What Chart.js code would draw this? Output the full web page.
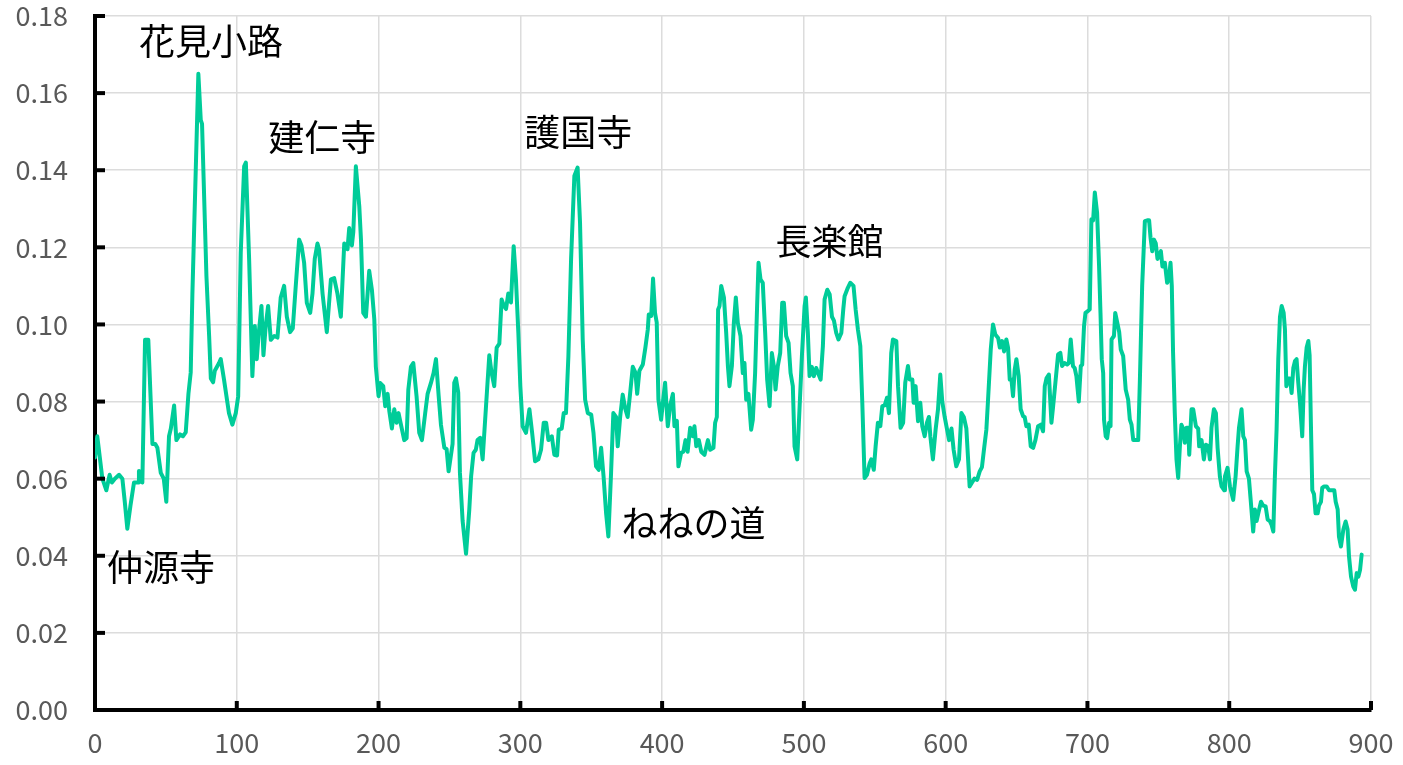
<!DOCTYPE html>
<html>
<head>
<meta charset="utf-8">
<script src="https://cdn.jsdelivr.net/npm/chart.js@4.4.1/dist/chart.umd.min.js"></script>
<style>
body{margin:0;background:#fff;}
#chart{display:block;}
</style>
</head>
<body>
<canvas id="chart" width="1403" height="765"></canvas>
<script>
// x position along the route
var positions = [
 0,1.6,5.2,8,10.3,11.9,14,17,19.3,21,22.8,25,27.5,30.6,31,33.4,35.3,37.6,40.5,42.5,44,46.4,48.5,50.3,52.2,53.5,55.8,57.4,60,62,64,65.9,67.5,68.7,72.9,74.6,75.5,78.6,80.5,81.7,83.3,84.5,87.5,88.7,
 91,93.4,94.5,96.9,99.3,101,102.8,105.2,106.4,108.7,111,112.7,114.1,115.3,117.4,118.8,120.4,122.1,124,126.4,128.7,131,133.4,135.3,137.6,139.5,141.6,144,145.6,147.5,149.4,151.8,153.4,155,156.9,158,160.5,163.5,166.4,168.7,171,173.4,175.8,178.1,179.3,181.2,182.2,184,186.4,187.6,189.2,191.1,193.4,195.3,197,198.1,
 200,201.2,203.3,204.7,206.4,207.6,209.4,211.1,212.7,214.1,215.8,218.1,219.8,221,222.8,224.5,226.8,228.7,230.6,232.9,234.6,237,238.8,240.5,242.4,244,246.4,248,249.4,252.2,253.4,254.6,256.2,257.4,259.3,261.7,264,265.3,267,268.6,269.8,271.7,273.4,275.8,278.1,279.7,281.6,283.3,285.2,286.8,288.2,289.9,291.5,293.4,295.3,296.9,298.6,
 300,301.6,304,306.4,308.3,310.4,312.7,314.6,316.5,318.2,319.8,322.2,324,325.9,327.1,329.2,330.6,332.2,333.9,335.8,338.1,340.4,342.1,344,345.7,347.6,350,351.6,353.4,355.3,357,358.7,360.5,362.1,364,365.6,367.5,368.7,370.4,372.2,374.1,375.7,377.4,379.3,381.2,382.4,384,386.4,388.2,389.9,390.6,392.3,393.6,395,396.2,397.4,399.3,
 400.9,402.1,404,405.7,407.6,408.7,410.4,411.5,413.4,415,416.5,418,419.8,421.6,422.8,424.1,425.9,427.6,429.9,432.3,433.9,436.2,437.4,438.6,439.5,440.5,441.7,443.6,445.2,446.4,447.5,449.2,450.6,452,453.4,455.3,456.9,458.1,459.3,460.9,462.8,464,465.6,467,468,469.4,471,472.7,474.1,475.8,477.4,478.8,480,481.6,483.3,484.7,485.9,487.5,489.2,490.6,492.2,493.4,495.3,497,498.6,
 500.5,501.4,502.8,504,505.6,507,508.7,510.4,511.8,513.4,514.6,516.5,518.2,519.8,521.2,522.8,524.4,526.4,527.8,528.7,531,532.7,535,536.5,538.1,539.8,541.2,542.8,544.5,546.4,547.5,549.3,550.6,552.2,553.9,555.3,557,558.6,560,561.6,562.8,565.2,566.4,568.2,570,571.5,573.4,574.6,576.5,577.4,578.8,580.5,582.1,583.5,585.2,586.8,588.2,589.2,591,592.9,594.6,596.2,597.6,599.3,
 601,602.4,604.1,605.6,607.5,609.4,611.1,612.8,614.6,616.9,618.6,620.3,622.2,624,625.6,627,628.7,629.9,631.8,633.4,635,637,638.2,639.8,641.2,642.8,644,645.2,646.4,647.5,648.7,649.9,651.5,652.9,654.6,655.7,656.9,658.6,660,661.7,663.3,665.2,667.1,668.7,669.9,671.1,672.8,674.6,675.8,677.4,679.3,680.9,682.1,683.8,685.7,686.9,688.2,689.8,691,692.2,693.9,695.3,696.3,697.6,698.6,
 700.5,701.6,702.8,704,705.2,706.8,708.2,709.2,710.1,711.1,711.7,712.9,713.9,715.3,716.3,717,718.7,719.6,721,722.4,723.5,725.2,727,728.7,729.9,731.1,732.3,734.2,735.8,737,738.6,740.5,742.2,743.5,744.5,745.7,746.9,748.2,749.4,750.6,751.8,752.9,754.6,756.2,757.4,758.6,759.5,760.4,761.6,762.8,764,765.2,766.3,767.5,768.7,769.9,771.1,771.8,773.4,774.6,776.5,778.1,778.8,780.5,782.1,783.5,785.2,786.4,787.5,789.2,790.6,791.8,793.4,794.6,796.5,797,798.8,
 800.5,802.8,804.5,805.9,806.9,808.7,809.9,811.1,812.3,813.9,815.3,816.9,818.1,819.3,820.5,822.4,824,825.7,827.1,828.7,829.9,831.1,832.2,833.4,834.6,835.8,837,838.4,839.3,840.3,841.7,842.9,844,845.2,846.4,847.5,848.7,849.9,851.5,852.5,853.4,854.6,855.8,856.7,857.6,858.6,859.8,860.9,862.4,863.3,864.7,865.6,867,868.7,870.4,871.8,874.1,875.1,876.5,877.4,878.8,880.5,882.1,883.5,884.5,885.9,887.5,888.7,889.9,891.1,892.3,893.4
];
var values = [
 0.0655,0.071,0.060,0.057,0.061,0.059,0.060,0.061,0.060,0.054,0.047,0.053,0.059,0.059,0.062,0.059,0.096,0.096,0.069,0.069,0.068,0.0615,0.060,0.054,0.071,0.073,0.079,0.070,0.0715,0.071,0.072,0.082,0.0875,0.108,0.165,0.153,0.152,0.1125,0.097,0.086,0.085,0.088,0.090,0.091,
 0.0857,0.0797,0.077,0.074,0.077,0.0814,0.1186,0.141,0.142,0.117,0.0866,0.0996,0.091,0.097,0.1048,0.092,0.0996,0.1048,0.096,0.097,0.0966,0.107,0.110,0.102,0.098,0.099,0.110,0.122,0.1205,0.116,0.1056,0.103,0.108,0.117,0.121,0.1195,0.108,0.098,0.1117,0.112,0.108,0.102,0.121,0.1195,0.125,0.1205,0.124,0.141,0.1307,0.122,0.103,0.102,0.1139,0.109,0.1013,0.089,
 0.0814,0.0848,0.084,0.0788,0.082,0.0775,0.073,0.078,0.0745,0.077,0.074,0.070,0.0705,0.0831,0.089,0.090,0.0814,0.0719,0.070,0.077,0.082,0.0849,0.0874,0.091,0.0814,0.074,0.068,0.0677,0.0619,0.069,0.0849,0.086,0.0823,0.0615,0.049,0.0405,0.052,0.0606,0.0667,0.0675,0.070,0.0706,0.065,0.0788,0.092,0.0875,0.084,0.094,0.095,0.1065,0.105,0.104,0.108,0.1057,0.1203,0.1117,0.0978,
 0.084,0.0736,0.0719,0.078,0.072,0.0645,0.065,0.0675,0.0745,0.0745,0.070,0.071,0.0662,0.066,0.0727,0.073,0.077,0.077,0.0918,0.117,0.1385,0.1407,0.1264,0.0961,0.0805,0.077,0.0766,0.0719,0.0632,0.0623,0.068,0.0606,0.051,0.045,0.0615,0.077,0.076,0.0684,0.076,0.0818,0.078,0.076,0.082,0.089,0.0875,0.082,0.088,0.0896,0.094,0.0987,0.1026,0.1022,0.1119,0.103,0.1005,0.0805,0.0753,
 0.081,0.0849,0.0736,0.079,0.082,0.0736,0.075,0.0632,0.0667,0.067,0.070,0.067,0.0732,0.071,0.0736,0.0684,0.070,0.067,0.0662,0.070,0.0675,0.068,0.0745,0.076,0.1039,0.1048,0.110,0.107,0.0978,0.0892,0.084,0.0892,0.1004,0.107,0.1004,0.097,0.0874,0.090,0.0805,0.082,0.0727,0.0753,0.0874,0.1048,0.116,0.1117,0.1108,0.0978,0.0857,0.0788,0.0926,0.0892,0.0831,0.0892,0.0926,0.1056,0.1056,0.097,0.0952,0.0874,0.084,0.0684,0.065,0.0788,0.0918,
 0.1048,0.107,0.0978,0.0866,0.089,0.0866,0.0887,0.087,0.0857,0.0944,0.1065,0.109,0.1078,0.102,0.101,0.0978,0.0961,0.0978,0.104,0.1073,0.1095,0.1108,0.110,0.1039,0.0987,0.0944,0.0797,0.0602,0.061,0.064,0.065,0.0623,0.0684,0.0745,0.0736,0.0788,0.079,0.081,0.077,0.0926,0.0961,0.0957,0.084,0.0732,0.0745,0.0849,0.0892,0.0857,0.0857,0.0797,0.084,0.0749,0.0797,0.0736,0.071,0.0745,0.076,0.071,0.065,0.0727,0.078,0.087,0.080,0.076,
 0.0727,0.070,0.073,0.0675,0.0632,0.065,0.077,0.076,0.073,0.058,0.059,0.060,0.0597,0.0619,0.063,0.0675,0.0727,0.0805,0.0935,0.100,0.0974,0.0965,0.094,0.0957,0.093,0.0961,0.094,0.0857,0.0857,0.0814,0.0883,0.091,0.0866,0.078,0.0762,0.076,0.0736,0.074,0.0684,0.068,0.070,0.0736,0.074,0.0723,0.084,0.086,0.087,0.0745,0.0788,0.0849,0.0922,0.0926,0.0892,0.090,0.0896,0.090,0.0961,0.0892,0.0887,0.0866,0.080,0.0892,0.0896,0.0996,0.103,
 0.1035,0.1039,0.1273,0.127,0.1342,0.129,0.1151,0.103,0.091,0.0874,0.0753,0.071,0.0705,0.0745,0.0736,0.0961,0.097,0.103,0.1005,0.098,0.0935,0.0918,0.0831,0.0805,0.0753,0.074,0.070,0.070,0.070,0.0857,0.110,0.1268,0.127,0.127,0.1225,0.119,0.122,0.121,0.117,0.118,0.119,0.115,0.116,0.1108,0.1117,0.116,0.110,0.0926,0.077,0.065,0.0602,0.0684,0.074,0.073,0.0693,0.0732,0.0732,0.0662,0.078,0.078,0.0736,0.073,0.0684,0.070,0.065,0.0688,0.0684,0.065,0.0732,0.078,0.077,0.068,0.0606,0.058,0.057,0.0606,0.0628,
 0.058,0.0545,0.0606,0.0684,0.0732,0.078,0.071,0.070,0.0619,0.060,0.0537,0.0463,0.052,0.049,0.051,0.054,0.053,0.0528,0.0494,0.049,0.048,0.0463,0.0606,0.0727,0.091,0.102,0.1048,0.103,0.0987,0.084,0.086,0.086,0.0822,0.0887,0.0905,0.091,0.0849,0.0797,0.071,0.0831,0.0892,0.094,0.0957,0.092,0.0745,0.057,0.056,0.051,0.051,0.053,0.054,0.0576,0.058,0.058,0.057,0.057,0.057,0.054,0.052,0.045,0.0424,0.0468,0.0489,0.0468,0.0398,0.0346,0.032,0.0312,0.0355,0.0346,0.0364,0.0403
];
var xTicks = [0,100,200,300,400,500,600,700,800,900];
var yTicks = [0,0.02,0.04,0.06,0.08,0.10,0.12,0.14,0.16,0.18];

var placeNames = ["花見小路","建仁寺","護国寺","長楽館","ねねの道","仲源寺"];
var placeX = [81.9,160.2,340.9,518.1,422.1,46.6];
var placeY = [0.1735,0.1486,0.1499,0.1216,0.0483,0.0369];

var points = [];
for(var i=0;i<positions.length;i++){
    points.push({x:positions[i], y:values[i]});
}

var innerTicks = {
    id: "innerTicks",
    afterDatasetsDraw: function(chart){
        var ctx = chart.ctx;
        var xs = chart.scales.x, ys = chart.scales.y;
        var area = chart.chartArea;
        ctx.save();
        ctx.strokeStyle = "#000";
        ctx.lineWidth = 4;
        for(var i=0;i<xTicks.length;i++){
            var px = xs.getPixelForValue(xTicks[i]);
            ctx.beginPath();
            ctx.moveTo(px, area.bottom);
            ctx.lineTo(px, area.bottom-9);
            ctx.stroke();
        }
        for(var j=0;j<yTicks.length;j++){
            var py = ys.getPixelForValue(yTicks[j]);
            ctx.beginPath();
            ctx.moveTo(area.left, py);
            ctx.lineTo(area.left+10, py);
            ctx.stroke();
        }
        ctx.fillStyle = "#000";
        ctx.font = '36px "Noto Sans CJK JP"';
        ctx.textAlign = "center";
        ctx.textBaseline = "middle";
        for(var k=0;k<placeNames.length;k++){
            ctx.fillText(placeNames[k], xs.getPixelForValue(placeX[k]), ys.getPixelForValue(placeY[k]));
        }
        ctx.restore();
    }
};

var ctx_chart = document.getElementById("chart").getContext("2d");
var chart = new Chart(ctx_chart, {
    type: "line",
    data: {
        datasets: [{
            data: points,
            borderColor: "#00CC99",
            borderWidth: 4,
            borderJoinStyle: "round",
            borderCapStyle: "round",
            pointRadius: 0,
            tension: 0,
            fill: false
        }]
    },
    options: {
        responsive: false,
        animation: false,
        devicePixelRatio: 1,
        layout: { padding: { left: 0, right: 32, top: 16, bottom: 0 } },
        plugins: {
            legend: { display: false },
            tooltip: { enabled: false }
        },
        scales: {
            x: {
                type: "linear",
                min: 0,
                max: 900,
                afterFit: function(scale){
                    scale.height = 55;
                    scale.paddingLeft = 0;
                    scale.paddingRight = 0;
                },
                afterBuildTicks: function(scale){ scale.ticks = xTicks.map(function(v){ return {value:v}; }); },
                grid: { color: "#dcdcdc", lineWidth: 1.5, drawTicks: false },
                border: { display: true, color: "#000", width: 4 },
                ticks: {
                    color: "#595959",
                    font: { family: '"Noto Sans CJK JP"', size: 27 },
                    padding: 17,
                    maxRotation: 0
                }
            },
            y: {
                min: 0,
                max: 0.18,
                afterFit: function(scale){
                    scale.width = 95;
                    scale.paddingTop = 0;
                    scale.paddingBottom = 0;
                },
                afterBuildTicks: function(scale){ scale.ticks = yTicks.map(function(v){ return {value:v}; }); },
                grid: { color: "#dcdcdc", lineWidth: 1.5, drawTicks: false },
                border: { display: true, color: "#000", width: 4 },
                ticks: {
                    color: "#595959",
                    font: { family: '"Noto Sans CJK JP"', size: 27 },
                    padding: 27,
                    callback: function(v){ return v.toFixed(2); }
                }
            }
        }
    },
    plugins: [innerTicks]
});
</script>
</body>
</html>
